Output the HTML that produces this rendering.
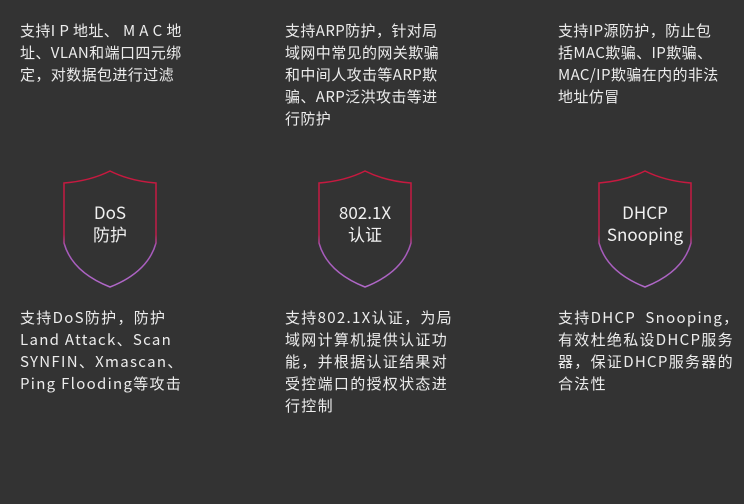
<!DOCTYPE html>
<html><head><meta charset="utf-8"><style>
html,body{margin:0;padding:0}
body{width:744px;height:504px;background:#333333;position:relative;overflow:hidden;font-family:"Noto Sans CJK SC","Liberation Sans",sans-serif;color:#ececec}
.t{position:absolute;font-size:15px;line-height:22px;white-space:nowrap;letter-spacing:1.3px}
.tp{letter-spacing:0.4px}
.lbl{position:absolute;width:100px;text-align:center;font-size:17px;line-height:22px;color:#f0f0f0}
svg{position:absolute;left:0;top:0}
</style></head><body>
<svg width="744" height="504">
<defs><linearGradient id="g" x1="0" y1="0" x2="0" y2="1">
<stop offset="0" stop-color="#c8183e"/><stop offset="0.55" stop-color="#c01e4a"/><stop offset="0.65" stop-color="#a458b8"/><stop offset="1" stop-color="#b068c8"/></linearGradient></defs>
<g fill="none" stroke="url(#g)" stroke-width="1.5">
<path d="M110 171 Q90 181 64 183 L64 243 Q72 272 110 287 Q148 272 156 243 L156 183 Q130 181 110 171 Z"/>
<path transform="translate(255 0)" d="M110 171 Q90 181 64 183 L64 243 Q72 272 110 287 Q148 272 156 243 L156 183 Q130 181 110 171 Z"/>
<path transform="translate(535 0)" d="M110 171 Q90 181 64 183 L64 243 Q72 272 110 287 Q148 272 156 243 L156 183 Q130 181 110 171 Z"/>
</g></svg>
<div class="lbl" style="left:60px;top:201px">DoS<br>防护</div>
<div class="lbl" style="left:315px;top:201px">802.1X<br>认证</div>
<div class="lbl" style="left:595px;top:201px">DHCP<br>Snooping</div>
<div class="t tp" style="left:20px;top:20px">支持I P 地址、 M A C 地<br>址、VLAN和端口四元绑<br>定，对数据包进行过滤</div>
<div class="t tp" style="left:285px;top:20px">支持ARP防护，针对局<br>域网中常见的网关欺骗<br>和中间人攻击等ARP欺<br>骗、ARP泛洪攻击等进<br>行防护</div>
<div class="t tp" style="left:558px;top:20px">支持IP源防护，防止包<br>括MAC欺骗、IP欺骗、<br>MAC/IP欺骗在内的非法<br>地址仿冒</div>
<div class="t" style="left:20px;top:307px">支持DoS防护，防护<br>Land Attack、Scan<br>SYNFIN、Xmascan、<br>Ping Flooding等攻击</div>
<div class="t" style="left:285px;top:307px">支持802.1X认证，为局<br>域网计算机提供认证功<br>能，并根据认证结果对<br>受控端口的授权状态进<br>行控制</div>
<div class="t" style="left:558px;top:307px">支持DHCP&nbsp;&nbsp;Snooping，<br>有效杜绝私设DHCP服务<br>器，保证DHCP服务器的<br>合法性</div>
</body></html>
